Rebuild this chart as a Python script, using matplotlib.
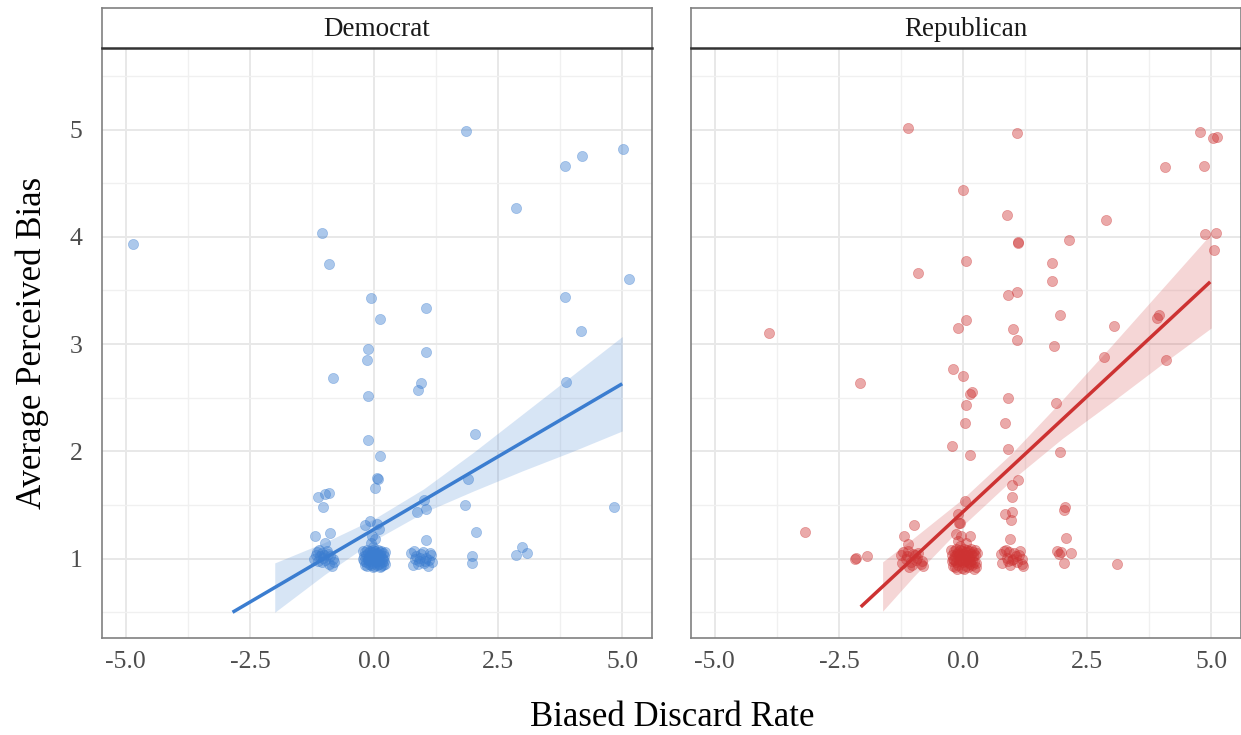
import matplotlib
matplotlib.use('Agg')
import matplotlib.pyplot as plt

plt.rcParams['font.family'] = ['Liberation Serif', 'DejaVu Serif']

# ---------------- data ----------------
panels = ["Democrat", "Republican"]

dem_x = [
    -4.86, 1.86, 3.84, 4.18, 5.02, 2.87, -1.05, -0.91, 5.14, -0.06, 3.84, 1.04, 0.12, 4.16,
    -0.13, 1.05, -0.14, -0.83, 0.94, 0.89, 3.87, -0.13, 2.04, -0.13, 0.12, 0.06, 0.08, 1.90,
    0.01, -0.91, -0.98, -1.12, -1.03, 1.00, 0.86, 1.05, 1.84, 2.05, 1.97, 1.98, 2.86, 2.98,
    3.08, -1.18, -0.99, -0.89, 4.84,
    # above the 0 cluster
    -0.18, -0.08, 0.05, 0.11, -0.05, 0.02, -0.07, -0.03, 1.05,
    # cluster around -1
    -1.15, -1.10, -1.05, -1.00, -0.95, -1.20, -1.12, -1.05, -0.98, -0.88, -0.82, -0.90,
    -0.85, -1.08, -1.02, -0.93, -1.17, -0.80,
    # cluster around 0
    -0.22, -0.18, -0.15, -0.12, -0.08, -0.05, -0.02, 0.02, 0.05, 0.08, 0.12, 0.15, 0.19, 0.22,
    -0.20, -0.16, -0.11, -0.07, -0.03, 0.01, 0.04, 0.09, 0.13, 0.17, 0.21,
    -0.21, -0.17, -0.13, -0.09, -0.04, 0.00, 0.03, 0.07, 0.11, 0.16, 0.20,
    -0.19, -0.14, -0.10, -0.06, -0.01, 0.06, 0.10, 0.14, 0.18, 0.23,
    -0.23, -0.12, -0.03, 0.05, 0.12, 0.19,
    # cluster around 1
    0.75, 0.80, 0.85, 0.90, 0.95, 1.00, 1.05, 1.10, 1.15, 0.78, 0.88, 0.98, 1.08, 1.17,
    0.83, 0.93, 1.03, 1.12,
]
dem_y = [
    3.93, 4.99, 4.66, 4.75, 4.82, 4.27, 4.04, 3.75, 3.61, 3.43, 3.44, 3.34, 3.23, 3.12,
    2.95, 2.93, 2.85, 2.68, 2.64, 2.57, 2.65, 2.52, 2.16, 2.11, 1.96, 1.75, 1.74, 1.74,
    1.66, 1.61, 1.60, 1.57, 1.48, 1.55, 1.43, 1.46, 1.50, 1.25, 1.02, 0.96, 1.03, 1.11,
    1.05, 1.21, 1.15, 1.24, 1.48,
    1.31, 1.35, 1.32, 1.28, 1.21, 1.18, 1.15, 1.11, 1.17,
    1.06, 1.08, 1.05, 1.03, 1.07, 1.00, 0.98, 0.97, 0.99, 1.02, 1.00, 0.95,
    0.93, 1.02, 1.01, 1.04, 1.03, 0.97,
    1.07, 1.06, 1.08, 1.05, 1.07, 1.06, 1.08, 1.07, 1.05, 1.08, 1.06, 1.07, 1.05, 1.06,
    1.02, 1.03, 1.01, 1.03, 1.02, 1.04, 1.01, 1.02, 1.03, 1.01, 1.02,
    0.98, 0.97, 0.99, 0.98, 0.96, 0.99, 0.97, 0.98, 0.99, 0.97, 0.98,
    0.94, 0.93, 0.95, 0.94, 0.93, 0.94, 0.95, 0.93, 0.94, 0.95,
    1.00, 1.00, 0.92, 1.00, 0.92, 1.00,
    1.05, 1.07, 1.02, 0.98, 1.04, 0.96, 1.01, 0.99, 1.03, 0.94, 0.95, 1.06, 0.93, 0.97,
    1.00, 1.01, 0.98, 1.05,
]

rep_x = [
    -1.10, 1.08, 4.78, 5.03, 5.12, 4.06, 4.85, -0.01, 0.89, 2.89, 4.87, 5.10, 1.10, 1.11,
    2.14, 0.06, 1.80, -0.91, 1.80, 5.05, 0.91, 1.08, -3.91, 0.06, -0.10, 1.96, 1.01, 1.09,
    3.04, 3.90, 3.95, 1.83, 2.84, 4.08, -0.21, 0.00, -2.08, 0.14, 0.18, 0.91, 0.05, 1.87,
    0.04, 0.85, -0.22, 0.15, 0.91, 1.95, 0.98, 1.10, 0.98, 0.03, 2.04, 2.06, 0.84, 0.99,
    0.96, -0.11, -0.09, -0.99, -1.19, -1.11, -3.18, -2.18, -2.16, -1.93, 0.94, 2.08, 1.90,
    1.98, 1.94, 2.17, 2.04, 3.11,
    # above the 0 cluster
    -0.06, -0.14, -0.04, 0.15, -0.11, 0.06, -0.06,
    # cluster around -1
    -1.25, -1.20, -1.15, -1.10, -1.05, -1.00, -0.95, -0.90, -0.85, -0.80, -1.22, -1.12,
    -1.02, -0.92, -0.83, -1.08, -0.97,
    # cluster around 0
    -0.24, -0.19, -0.15, -0.11, -0.07, -0.03, 0.01, 0.05, 0.09, 0.13, 0.17, 0.21, 0.25, 0.29,
    -0.22, -0.17, -0.12, -0.08, -0.04, 0.00, 0.04, 0.08, 0.12, 0.16, 0.20, 0.24,
    -0.23, -0.18, -0.14, -0.09, -0.05, -0.01, 0.03, 0.07, 0.11, 0.15, 0.19, 0.23, 0.27,
    -0.21, -0.16, -0.10, -0.02, 0.06, 0.10, 0.18, 0.26,
    -0.20, -0.13, -0.06, 0.02, 0.14, 0.22,
    # cluster around 1
    0.76, 0.82, 0.88, 0.93, 0.98, 1.03, 1.08, 1.13, 1.18, 1.21, 0.79, 0.86, 0.95, 1.06,
    1.15, 0.90, 1.00, 1.19,
]
rep_y = [
    5.01, 4.97, 4.98, 4.92, 4.93, 4.65, 4.66, 4.44, 4.20, 4.16, 4.03, 4.04, 3.95, 3.94,
    3.97, 3.77, 3.76, 3.66, 3.59, 3.88, 3.46, 3.49, 3.10, 3.22, 3.15, 3.27, 3.14, 3.04,
    3.17, 3.24, 3.27, 2.98, 2.88, 2.85, 2.77, 2.70, 2.64, 2.53, 2.55, 2.50, 2.43, 2.45,
    2.26, 2.26, 2.05, 1.97, 2.02, 1.99, 1.69, 1.73, 1.57, 1.54, 1.45, 1.48, 1.42, 1.43,
    1.36, 1.42, 1.33, 1.31, 1.21, 1.14, 1.25, 1.00, 1.01, 1.02, 1.18, 1.19, 1.07,
    1.06, 1.04, 1.05, 0.96, 0.95,
    1.33, 1.23, 1.21, 1.21, 1.16, 1.15, 1.12,
    1.03, 1.06, 1.00, 1.07, 0.97, 1.04, 0.99, 1.05, 0.95, 0.93, 0.96, 1.02,
    0.94, 1.01, 0.98, 0.92, 1.03,
    1.08, 1.07, 1.09, 1.06, 1.08, 1.07, 1.09, 1.06, 1.08, 1.07, 1.09, 1.06, 1.08, 1.05,
    1.03, 1.02, 1.04, 1.03, 1.01, 1.04, 1.02, 1.03, 1.01, 1.04, 1.02, 1.03,
    0.98, 0.99, 0.97, 0.98, 0.99, 0.97, 0.98, 0.99, 0.97, 0.98, 0.99, 0.97, 0.96,
    0.93, 0.92, 0.94, 0.91, 0.93, 0.92, 0.94, 0.92,
    1.00, 0.90, 1.00, 0.90, 0.95, 0.90,
    1.04, 1.07, 1.01, 1.06, 0.99, 1.05, 0.97, 1.03, 0.95, 0.93, 0.96, 1.08, 0.94, 1.02,
    1.07, 0.98, 1.00, 1.00,
]

# fitted lines (endpoints)
dem_line_x = [-2.85, 5.0]
dem_line_y = [0.50, 2.63]
rep_line_x = [-2.06, 4.98]
rep_line_y = [0.55, 3.58]

# confidence bands
dem_band_x = [-2.0, -1.0, 0.0, 1.0, 2.0, 3.0, 4.0, 5.0]
dem_band_lo = [0.50, 0.85, 1.17, 1.43, 1.63, 1.82, 2.00, 2.19]
dem_band_hi = [0.96, 1.15, 1.37, 1.65, 1.99, 2.35, 2.71, 3.07]
rep_band_x = [-1.62, -1.0, 0.0, 1.0, 2.0, 3.0, 4.0, 5.0]
rep_band_lo = [0.51, 0.83, 1.31, 1.74, 2.12, 2.46, 2.81, 3.15]
rep_band_hi = [0.97, 1.19, 1.56, 1.99, 2.48, 2.99, 3.51, 4.03]

x_ticks = [-5.0, -2.5, 0.0, 2.5, 5.0]
x_tick_labels = ["-5.0", "-2.5", "0.0", "2.5", "5.0"]
y_ticks = [1, 2, 3, 4, 5]
y_tick_labels = ["1", "2", "3", "4", "5"]

# ---------------- figure ----------------
W, H = 1241, 735
fig = plt.figure(figsize=(W / 100, H / 100), dpi=100)

blue = "#3b7dd0"
red = "#cd3232"

specs = [
    (panels[0], dem_x, dem_y, dem_line_x, dem_line_y, dem_band_x, dem_band_lo, dem_band_hi, blue, 102),
    (panels[1], rep_x, rep_y, rep_line_x, rep_line_y, rep_band_x, rep_band_lo, rep_band_hi, red, 691),
]

p_top, p_bot = 48, 638
s_top = 8
pw = 550

for i, (name, xs, ys, lx, ly, bx, blo, bhi, col, left) in enumerate(specs):
    ax = fig.add_axes([left / W, 1 - p_bot / H, pw / W, (p_bot - p_top) / H])
    ax.set_xlim(-5.48, 5.6)
    ax.set_ylim(0.26, 5.76)
    ax.set_xticks(x_ticks)
    ax.set_xticklabels(x_tick_labels)
    ax.set_yticks(y_ticks)
    ax.set_yticklabels(y_tick_labels)
    ax.set_xticks([-3.75, -1.25, 1.25, 3.75], minor=True)
    ax.set_yticks([0.5, 1.5, 2.5, 3.5, 4.5, 5.5], minor=True)
    ax.grid(True, which='major', color='#e8e8e8', lw=1.4)
    ax.grid(True, which='minor', color='#f0f0f0', lw=1.0)
    ax.set_axisbelow(True)
    ax.tick_params(which='both', length=0)
    ax.tick_params(axis='x', pad=9, labelsize=18.5, labelcolor='#4d4d4d')
    ax.tick_params(axis='y', pad=14, labelsize=18.5, labelcolor='#4d4d4d')
    if i == 1:
        ax.tick_params(axis='y', labelleft=False)
    for s in ax.spines.values():
        s.set_color('#808080')
        s.set_linewidth(1.2)

    ax.fill_between(bx, blo, bhi, color=col, alpha=0.2, lw=0, zorder=2)
    ax.scatter(xs, ys, s=54, color=col, alpha=0.42, edgecolors=col, linewidths=0.5, zorder=3)
    ax.plot(lx, ly, color=col, lw=2.5, zorder=4, solid_capstyle='butt')

    # strip
    sax = fig.add_axes([left / W, 1 - p_top / H, pw / W, (p_top - s_top) / H])
    sax.set_xticks([])
    sax.set_yticks([])
    for k, s in sax.spines.items():
        s.set_color('#808080')
        s.set_linewidth(1.2)
    sax.spines['bottom'].set_color('#333333')
    sax.spines['bottom'].set_linewidth(1.8)
    sax.text(0.5, 0.47, name, ha='center', va='center', fontsize=19.5, color='#1a1a1a',
             transform=sax.transAxes)

fig.text(672 / W, 1 - 718 / H, "Biased Discard Rate", ha='center', va='center', fontsize=25)
fig.text(32 / W, 1 - 343 / H, "Average Perceived Bias", ha='center', va='center',
         fontsize=25, rotation=90)

fig.savefig("out.png", dpi=100)
